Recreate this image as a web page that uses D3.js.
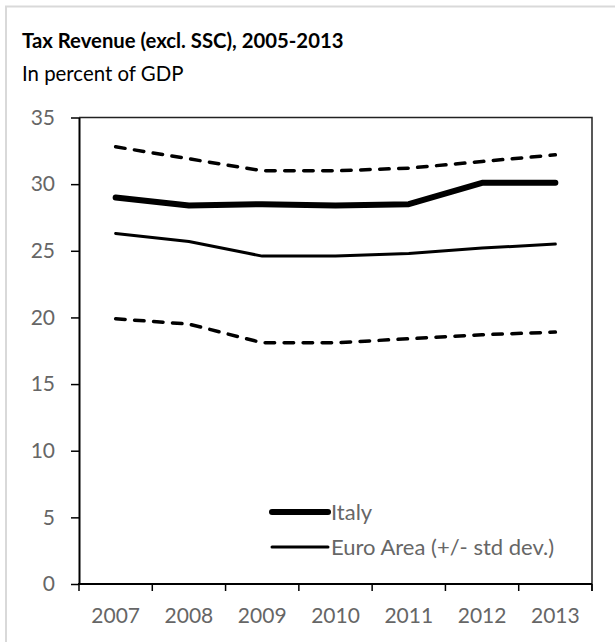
<!DOCTYPE html>
<html>
<head>
<meta charset="utf-8">
<script src="https://cdn.jsdelivr.net/npm/d3@7"></script>
<style>
  body { margin: 0; background: #fff; }
  svg { display: block; font-family: Lato, "Open Sans", sans-serif; }
</style>
</head>
<body>
<svg width="615" height="642"></svg>
<script>
// data (percent of GDP)
const years = ['2007', '2008', '2009', '2010', '2011', '2012', '2013'];
const italy = [29.0, 28.4, 28.5, 28.4, 28.5, 30.1, 30.1];
const euroArea = [26.3, 25.7, 24.6, 24.6, 24.8, 25.2, 25.5];
const euroUpper = [32.8, 31.9, 31.0, 31.0, 31.2, 31.7, 32.2];
const euroLower = [19.9, 19.5, 18.1, 18.1, 18.4, 18.7, 18.9];
const yTicks = [0, 5, 10, 15, 20, 25, 30, 35];
const legendLabels = ['Italy', 'Euro Area (+/- std dev.)'];

const svg = d3.select('svg');
const labelGrey = '#666';

// light outer frame (runs off the right and bottom edge)
svg.append('rect')
    .attr('x', 6).attr('y', 6.5)
    .attr('width', 700).attr('height', 700)
    .attr('fill', 'none')
    .attr('stroke', '#d9d9d9')
    .attr('stroke-width', 2);

svg.append('text')
    .attr('x', 22).attr('y', 48)
    .style('font-size', '20.3px')
    .style('font-weight', 'bold')
    .attr('fill', '#000')
    .text('Tax Revenue (excl. SSC), 2005-2013');

svg.append('text')
    .attr('x', 22).attr('y', 81)
    .style('font-size', '20.4px')
    .attr('fill', '#000')
    .text('In percent of GDP');

const plotLeft = 79, plotRight = 592, plotTop = 117.5, plotBottom = 584;

const x = d3.scaleBand().domain(years).range([plotLeft, plotRight]).padding(0);
const y = d3.scaleLinear().domain([0, 35]).range([plotBottom, plotTop]);
const cx = d => x(d) + x.bandwidth() / 2;

// top and right frame of the plot area
svg.append('path')
    .attr('d', `M${plotLeft},${plotTop}H${plotRight}V${plotBottom + 7}`)
    .attr('fill', 'none')
    .attr('stroke', '#222')
    .attr('stroke-width', 1.5);

// y axis
const yAxisG = svg.append('g')
    .attr('transform', `translate(${plotLeft},0)`)
    .call(d3.axisLeft(y).tickValues(yTicks).tickSize(8).tickSizeOuter(0).tickPadding(16));
yAxisG.select('.domain').attr('stroke', '#000').attr('stroke-width', 2);
yAxisG.selectAll('.tick line').attr('stroke', '#000').attr('stroke-width', 1.5);
yAxisG.selectAll('text')
    .style('font-size', '21px')
    .style('font-family', 'Lato, "Open Sans", sans-serif')
    .attr('fill', labelGrey);

// x axis: labels at band centres, tick marks on band edges
const xAxisG = svg.append('g')
    .attr('transform', `translate(0,${plotBottom})`)
    .call(d3.axisBottom(x).tickSize(0).tickSizeOuter(0).tickPadding(24));
xAxisG.select('.domain').remove();
xAxisG.selectAll('text')
    .style('font-size', '21px')
    .style('font-family', 'Lato, "Open Sans", sans-serif')
    .attr('fill', labelGrey);

svg.append('line')
    .attr('x1', plotLeft - 1).attr('x2', plotRight)
    .attr('y1', plotBottom).attr('y2', plotBottom)
    .attr('stroke', '#000').attr('stroke-width', 2);

svg.selectAll('.xtick')
  .data(years.concat(['end']))
  .enter().append('line')
    .attr('class', 'xtick')
    .attr('x1', (d, i) => i < years.length ? x(d) : plotRight)
    .attr('x2', (d, i) => i < years.length ? x(d) : plotRight)
    .attr('y1', plotBottom).attr('y2', plotBottom + 7)
    .attr('stroke', '#000').attr('stroke-width', 1.5);

// series
const line = d3.line()
    .x((d, i) => cx(years[i]))
    .y(d => y(d));

const series = [
  { values: euroUpper, width: 3.5, dash: '9.5,9.5' },
  { values: euroLower, width: 3.5, dash: '9.5,9.5' },
  { values: euroArea, width: 3, dash: null },
  { values: italy, width: 6, dash: null }
];

svg.selectAll('.series')
  .data(series)
  .enter().append('path')
    .attr('class', 'series')
    .attr('d', d => line(d.values))
    .attr('fill', 'none')
    .attr('stroke', '#000')
    .attr('stroke-width', d => d.width)
    .attr('stroke-linecap', 'round')
    .attr('stroke-linejoin', 'round')
    .attr('stroke-dasharray', d => d.dash);

// legend
const legend = svg.selectAll('.legend')
  .data(legendLabels)
  .enter().append('g')
    .attr('class', 'legend')
    .attr('transform', (d, i) => `translate(272,${512 + i * 35})`);

legend.append('line')
    .attr('x1', 0).attr('x2', 56)
    .attr('y1', 0).attr('y2', 0)
    .attr('stroke', '#000')
    .attr('stroke-width', (d, i) => i === 0 ? 6 : 3)
    .attr('stroke-linecap', 'round');

legend.append('text')
    .attr('x', 59).attr('y', 0).attr('dy', '0.36em')
    .style('font-size', '22px')
    .attr('fill', labelGrey)
    .text(d => d);
</script>
</body>
</html>
